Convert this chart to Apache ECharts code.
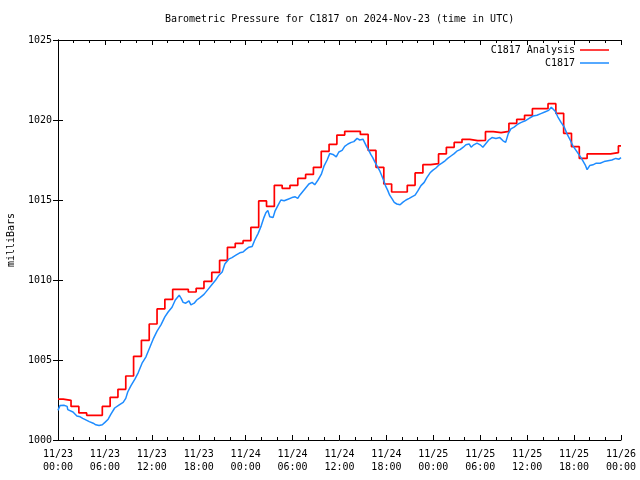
<!DOCTYPE html>
<html><head><meta charset="utf-8">
<script src="https://cdn.jsdelivr.net/npm/echarts@6/dist/echarts.min.js"></script>
<style>html,body{margin:0;padding:0;background:#fff}#c{width:640px;height:480px}</style>
</head><body><div id="c"></div><script>
const titleText = 'Barometric Pressure for C1817 on 2024-Nov-23 (time in UTC)';
const xTickLabels = ['11/23\n00:00','11/23\n06:00','11/23\n12:00','11/23\n18:00','11/24\n00:00','11/24\n06:00','11/24\n12:00','11/24\n18:00','11/25\n00:00','11/25\n06:00','11/25\n12:00','11/25\n18:00','11/26\n00:00'];
const yTicks = [1000, 1005, 1010, 1015, 1020, 1025];

// Analysis: first value at 00:00, then hourly values valid from HH:40
const analysisStartMinute = 40;
const analysisValues = [1002.56,1002.48,1002.1,1001.69,1001.54,1001.54,1002.1,1002.67,1003.17,1004.0,1005.23,1006.23,1007.25,1008.19,1008.79,1009.42,1009.42,1009.25,1009.48,1009.92,1010.48,1011.23,1012.04,1012.29,1012.46,1013.29,1014.94,1014.6,1015.92,1015.73,1015.92,1016.35,1016.6,1017.04,1018.04,1018.48,1019.06,1019.29,1019.29,1019.1,1018.1,1017.04,1016.0,1015.5,1015.5,1015.92,1016.69,1017.21,1017.27,1017.88,1018.29,1018.6,1018.79,1018.71,1018.73,1019.27,1019.21,1019.29,1019.79,1020.04,1020.29,1020.71,1020.71,1021.02,1020.42,1019.17,1018.33,1017.6,1017.88,1017.88,1017.88,1017.96,1018.38];

// Station observations (minutes after 2024-11-23 00:00 UTC)
const obsMinutes = [0,15,45,70,75,90,115,130,145,155,170,190,205,240,270,290,315,340,360,385,405,435,470,500,520,535,560,590,615,645,675,705,730,760,790,820,845,875,900,930,945,960,980,1005,1020,1045,1065,1090,1120,1150,1180,1210,1235,1260,1280,1310,1335,1365,1395,1420,1440,1465,1490,1510,1535,1560,1580,1595,1610,1625,1650,1665,1690,1710,1735,1765,1795,1820,1840,1855,1880,1905,1925,1950,1970,1995,2020,2040,2065,2085,2110,2135,2155,2180,2200,2225,2250,2270,2295,2315,2340,2355,2370,2385,2400,2415,2430,2450,2470,2485,2500,2515,2530,2545,2565,2580,2600,2625,2645,2670,2695,2715,2740,2760,2785,2810,2830,2855,2875,2900,2925,2945,2970,2990,3015,3040,3060,3085,3110,3130,3155,3170,3190,3215,3240,3260,3285,3305,3330,3360,3390,3415,3435,3455,3475,3500,3530,3555,3585,3615,3645,3675,3705,3735,3765,3785,3800,3815,3835,3860,3885,3905,3930,3950,3975,4000,4020,4045,4060,4080,4105,4130,4160,4190,4220,4250,4280,4305,4320];
const obsValues = [1001.85,1002.15,1002.17,1002.1,1001.9,1001.85,1001.75,1001.65,1001.5,1001.62,1001.45,1001.35,1001.25,1001.15,1001.05,1000.95,1000.9,1000.95,1001.1,1001.3,1001.6,1002.0,1002.2,1002.35,1002.6,1003.0,1003.4,1003.8,1004.2,1004.8,1005.2,1005.8,1006.3,1006.8,1007.2,1007.7,1008.0,1008.3,1008.75,1009.05,1008.85,1008.6,1008.55,1008.7,1008.45,1008.55,1008.75,1008.9,1009.1,1009.4,1009.7,1010.0,1010.3,1010.5,1011.0,1011.3,1011.4,1011.55,1011.7,1011.75,1011.9,1012.05,1012.1,1012.5,1012.9,1013.4,1013.9,1014.2,1014.35,1013.95,1013.9,1014.3,1014.7,1015.0,1014.95,1015.05,1015.15,1015.2,1015.1,1015.3,1015.55,1015.8,1016.0,1016.1,1015.95,1016.25,1016.6,1017.1,1017.5,1017.9,1017.85,1017.7,1018.0,1018.1,1018.35,1018.5,1018.6,1018.65,1018.85,1018.75,1018.8,1018.55,1018.3,1018.1,1017.85,1017.65,1017.4,1017.1,1016.8,1016.5,1016.2,1015.85,1015.6,1015.3,1015.05,1014.85,1014.75,1014.7,1014.85,1015.0,1015.1,1015.2,1015.3,1015.55,1015.9,1016.1,1016.4,1016.7,1016.85,1017.0,1017.2,1017.3,1017.45,1017.6,1017.75,1017.9,1018.05,1018.15,1018.3,1018.45,1018.5,1018.3,1018.45,1018.55,1018.45,1018.3,1018.55,1018.75,1018.9,1018.85,1018.9,1018.7,1018.6,1019.15,1019.45,1019.55,1019.75,1019.85,1019.95,1020.1,1020.25,1020.3,1020.4,1020.5,1020.6,1020.8,1020.7,1020.55,1020.2,1019.85,1019.55,1019.15,1018.75,1018.4,1018.1,1017.8,1017.55,1017.2,1016.9,1017.15,1017.2,1017.3,1017.3,1017.4,1017.45,1017.5,1017.6,1017.55,1017.65];

const endHour = 72;
const analysisData = analysisValues.map((v, i) => [i === 0 ? 0 : (analysisStartMinute + (i - 1) * 60) / 60, v]);
analysisData.push([endHour, analysisValues[analysisValues.length - 1]]);
const obsData = obsMinutes.map((m, i) => [m / 60, obsValues[i]]);

const FONT = 'DejaVu Sans Mono';
const txt = {fontFamily: FONT, fontSize: 10, color: '#000'};
const chart = echarts.init(document.getElementById('c'), null, {renderer: 'canvas'});

const xBase = {
  type: 'value', min: 0, max: endHour, interval: 6,
  axisLine: {show: true, lineStyle: {color: '#000', width: 1}},
  axisTick: {show: true, inside: true, length: 5, lineStyle: {color: '#000'}},
  minorTick: {show: true, splitNumber: 3, length: 3, lineStyle: {color: '#000'}},
  splitLine: {show: false}
};
const yBase = {
  type: 'value', min: yTicks[0], max: yTicks[yTicks.length - 1], interval: 5,
  axisLine: {show: true, lineStyle: {color: '#000', width: 1}},
  axisTick: {show: true, inside: true, length: 5, lineStyle: {color: '#000'}},
  splitLine: {show: false}
};

chart.setOption({
  animation: false,
  backgroundColor: '#fff',
  title: {text: titleText, left: 165, top: 14, padding: 0, textStyle: Object.assign({}, txt, {fontWeight: 'normal'})},
  grid: {left: 58, right: 19, top: 40, bottom: 40, containLabel: false, outerBoundsMode: 'none'},
  legend: [
    {data: ['C1817 Analysis'], right: 31, top: 45, padding: 0, align: 'right', icon: 'rect', itemWidth: 29, itemHeight: 1.5, textStyle: txt},
    {data: ['C1817'], right: 31, top: 58, padding: 0, align: 'right', icon: 'rect', itemWidth: 29, itemHeight: 1.5, textStyle: txt}
  ],
  xAxis: [
    Object.assign({}, xBase, {position: 'bottom',
      axisLabel: Object.assign({}, txt, {margin: 8, lineHeight: 13, formatter: (v) => xTickLabels[Math.round(v / 6)]})}),
    Object.assign({}, xBase, {position: 'top', axisLabel: {show: false}})
  ],
  yAxis: [
    Object.assign({}, yBase, {position: 'left', name: 'milliBars', nameLocation: 'middle', nameRotate: 90, nameGap: 42,
      nameTextStyle: txt, axisLabel: Object.assign({}, txt, {margin: 6, formatter: (v) => String(v)})}),
    Object.assign({}, yBase, {position: 'right', axisLabel: {show: false}})
  ],
  series: [
    {name: 'C1817 Analysis', type: 'line', step: 'end', data: analysisData, showSymbol: false,
      lineStyle: {color: '#ff0000', width: 1.7}, itemStyle: {color: '#ff0000'}},
    {name: 'C1817', type: 'line', data: obsData, showSymbol: false,
      lineStyle: {color: '#1e8cff', width: 1.5}, itemStyle: {color: '#1e8cff'}}
  ]
});
</script></body></html>
